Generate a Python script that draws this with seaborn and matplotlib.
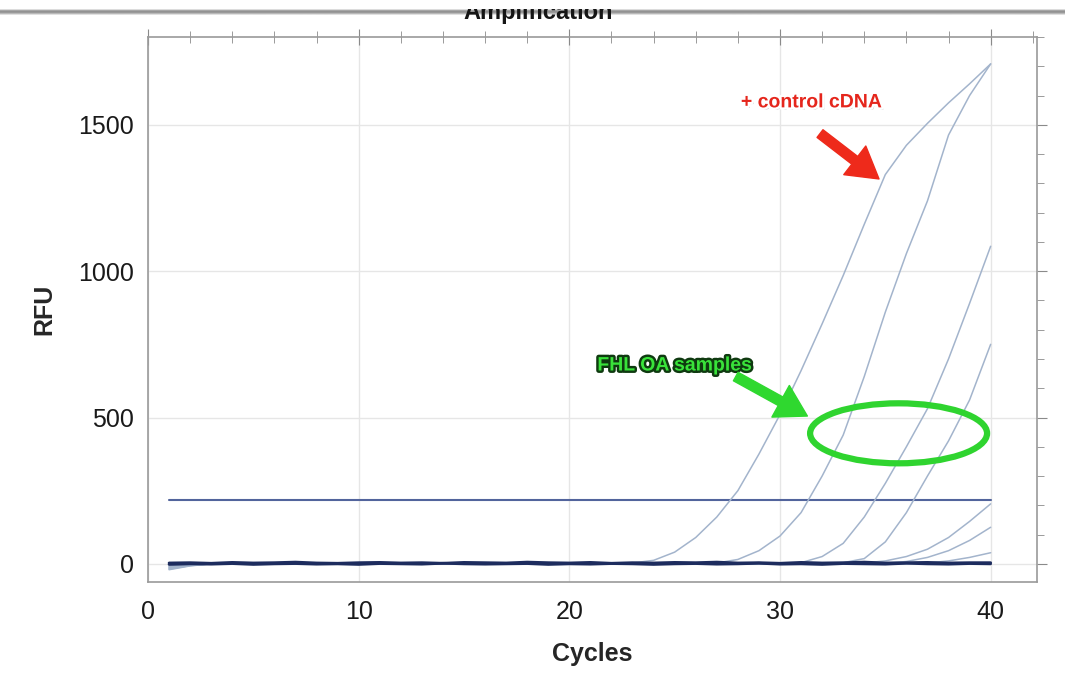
import numpy as np
import pandas as pd
import seaborn as sns
import matplotlib.pyplot as plt
import matplotlib.patheffects as pe
from matplotlib.patches import Ellipse, Rectangle
from matplotlib.ticker import MultipleLocator

# ---------------------------------------------------------------------------
# data (RFU per cycle)
# ---------------------------------------------------------------------------
cycles = list(range(1, 41))

control_a = [-18, -6, 0, 1, 0, -1, 1, 0, 2, 0, -1, 1, 0, 1, -1, 0, 2, 1, 0, -1,
             1, 0, 3, 12, 40, 90, 160, 250, 375, 510, 660, 820, 985, 1160, 1330, 1430, 1505, 1575, 1640, 1708]
control_b = [-12, -4, 1, 0, 1, -1, 0, 1, 0, -1, 1, 2, 0, 0, -1, 1, 0, 1, -1, 0,
             1, 0, 1, 0, -1, 1, 3, 15, 45, 95, 175, 300, 440, 640, 860, 1060, 1240, 1465, 1600, 1708]
sample_1 = [-20, -7, 0, 1, -1, 0, 1, 0, -1, 2, 0, 1, -1, 0, 1, 0, -1, 1, 2, 0,
            -1, 1, 0, 1, 0, -1, 1, 0, 2, 1, 4, 25, 70, 160, 275, 400, 530, 700, 890, 1085]
sample_2 = [-10, -3, 1, 0, 1, 0, -1, 1, 0, 1, -1, 0, 2, 0, 1, -1, 0, 1, 0, -1,
            1, 0, 1, 2, 0, -1, 1, 0, 1, 0, -1, 1, 4, 18, 75, 175, 300, 420, 560, 750]
sample_3 = [-16, -5, 0, 1, 0, 1, -1, 0, 1, 0, 2, -1, 0, 1, 0, -1, 1, 0, 1, 2,
            0, -1, 0, 1, 0, 1, -1, 0, 2, 1, 0, 1, 2, 3, 10, 25, 50, 90, 145, 205]
sample_4 = [-8, -2, 1, 0, -1, 1, 0, 2, 0, -1, 1, 0, 1, -1, 0, 1, 0, 2, -1, 0,
            1, 0, -1, 1, 0, 2, 0, 1, -1, 0, 1, 0, 1, 1, 2, 8, 22, 45, 80, 125]
sample_5 = [-14, -5, 0, 1, 0, -1, 1, 0, 1, 0, -1, 2, 0, 1, 0, -1, 1, 0, 0, 1,
            -1, 0, 1, 0, 2, 0, -1, 1, 0, 1, 0, -1, 1, 0, 1, 0, 3, 10, 22, 38]
ntc_1 = [3, 4, 2, 5, 3, 4, 6, 3, 2, 4, 5, 3, 4, 2, 5, 4, 3, 6, 4, 3,
         5, 2, 4, 3, 5, 4, 6, 3, 4, 2, 5, 3, 4, 6, 3, 4, 5, 3, 4, 4]
ntc_2 = [-2, 0, -1, 1, -2, 0, 1, -1, 0, -2, 1, 0, -1, 2, 0, -1, 0, 1, -2, 0,
         -1, 1, 0, -2, 0, 1, -1, 0, 2, -1, 0, -2, 1, 0, -1, 2, 0, -1, 1, 0]

threshold = 219
threshold_span = [1, 40]

amp_wells = {'A1': control_a, 'A2': control_b, 'B1': sample_1, 'B2': sample_2,
             'C1': sample_3, 'C2': sample_4, 'D1': sample_5}
ntc_wells = {'H1': ntc_1, 'H2': ntc_2}

# long-form tables for seaborn
df_amp = pd.DataFrame([{'Cycles': c, 'RFU': v, 'Well': w}
                       for w, vals in amp_wells.items() for c, v in zip(cycles, vals)])
df_ntc = pd.DataFrame([{'Cycles': c, 'RFU': v, 'Well': w}
                       for w, vals in ntc_wells.items() for c, v in zip(cycles, vals)])
df_thr = pd.DataFrame({'Cycles': threshold_span, 'RFU': [threshold, threshold]})

# ---------------------------------------------------------------------------
# figure
# ---------------------------------------------------------------------------
sns.set_style('white')
plt.rcParams['font.family'] = ['Liberation Sans', 'DejaVu Sans']

fig = plt.figure(figsize=(10.65, 6.88), dpi=100)
ax = fig.add_axes([148 / 1065, 1 - 582 / 688, (1037 - 148) / 1065, (582 - 37) / 688])

sns.lineplot(data=df_amp, x='Cycles', y='RFU', units='Well', estimator=None,
             color='#a3b4cc', linewidth=1.1, ax=ax, zorder=3)
sns.lineplot(data=df_ntc, x='Cycles', y='RFU', units='Well', estimator=None,
             color='#1d2c5e', linewidth=2.0, ax=ax, zorder=4)
sns.lineplot(data=df_thr, x='Cycles', y='RFU', color='#52649c',
             linewidth=1.5, ax=ax, zorder=2)

ax.set_xlim(0, 42.2)
ax.set_ylim(-62, 1800)
ax.xaxis.set_major_locator(MultipleLocator(10))
ax.xaxis.set_minor_locator(MultipleLocator(2))
ax.yaxis.set_major_locator(MultipleLocator(500))
ax.yaxis.set_minor_locator(MultipleLocator(100))
ax.grid(True, which='major', color='#e6e6e6', linewidth=1)
ax.set_axisbelow(True)

for side in ['left', 'right', 'top', 'bottom']:
    ax.spines[side].set_visible(True)
    ax.spines[side].set_color('#9a9a9a')
    ax.spines[side].set_linewidth(1.2)

ax.tick_params(axis='both', which='both', colors='#8a8a8a', labelcolor='#1a1a1a',
               labelsize=18, top=True, right=True)
ax.tick_params(axis='x', which='major', direction='inout', length=12, pad=7)
ax.tick_params(axis='x', which='minor', direction='inout', length=8)
ax.tick_params(axis='y', which='major', direction='out', length=7, pad=3)
ax.tick_params(axis='y', which='minor', direction='out', length=5)
ax.tick_params(axis='x', which='both', labeltop=False)
ax.tick_params(axis='y', which='both', labelright=False)

ax.set_xlabel('Cycles', fontsize=18, fontweight='bold', labelpad=13)
ax.set_ylabel('RFU', fontsize=18, fontweight='bold', labelpad=16)

# ---------------------------------------------------------------------------
# screenshot call-outs
# ---------------------------------------------------------------------------
ax.text(31.5, 1575, '+ control cDNA', color='#e5261c', fontsize=14, fontweight='bold',
        ha='center', va='center', zorder=6,
        path_effects=[pe.SimplePatchShadow(offset=(1.5, -1.5), shadow_rgbFace='#999999', alpha=0.6),
                      pe.withStroke(linewidth=3.5, foreground='white')])
ax.annotate('', xy=(34.7, 1315), xytext=(31.9, 1470), zorder=6,
            arrowprops=dict(arrowstyle='simple,head_length=1.1,head_width=1.3,tail_width=0.35',
                            color='#ee2a1b', mutation_scale=20, shrinkA=0, shrinkB=0))

ax.text(25.0, 676, 'FHL OA samples', color='#39e33a', fontsize=14, fontweight='bold',
        ha='center', va='center', zorder=6,
        path_effects=[pe.withStroke(linewidth=3.5, foreground='#0f3a10')])
ax.annotate('', xy=(31.3, 505), xytext=(27.9, 640), zorder=6,
            arrowprops=dict(arrowstyle='simple,head_length=1.1,head_width=1.3,tail_width=0.35',
                            color='#2fd82f', mutation_scale=20, shrinkA=0, shrinkB=0))
ax.add_patch(Ellipse((35.63, 446), width=8.4, height=205, fill=False,
                     edgecolor='#2fd42f', linewidth=4.5, zorder=6))

# cropped title bar at the top of the screenshot
bar = fig.add_axes([0, 1 - 15 / 688, 1, 6 / 688])
bar.imshow(np.array([[0.86], [0.62], [0.55], [0.70], [0.88]]), cmap='gray', vmin=0, vmax=1,
           aspect='auto', extent=(0, 1, 0, 1))
bar.set_axis_off()
fig.text(0.505, 1 - 19 / 688, 'Amplification', ha='center', va='baseline',
         fontsize=17, fontweight='bold', color='#151515', zorder=3)
fig.add_artist(Rectangle((0, 1 - 9 / 688), 1, 9 / 688, transform=fig.transFigure,
                         facecolor='white', edgecolor='none', zorder=5))

fig.savefig('out.png', dpi=100)
